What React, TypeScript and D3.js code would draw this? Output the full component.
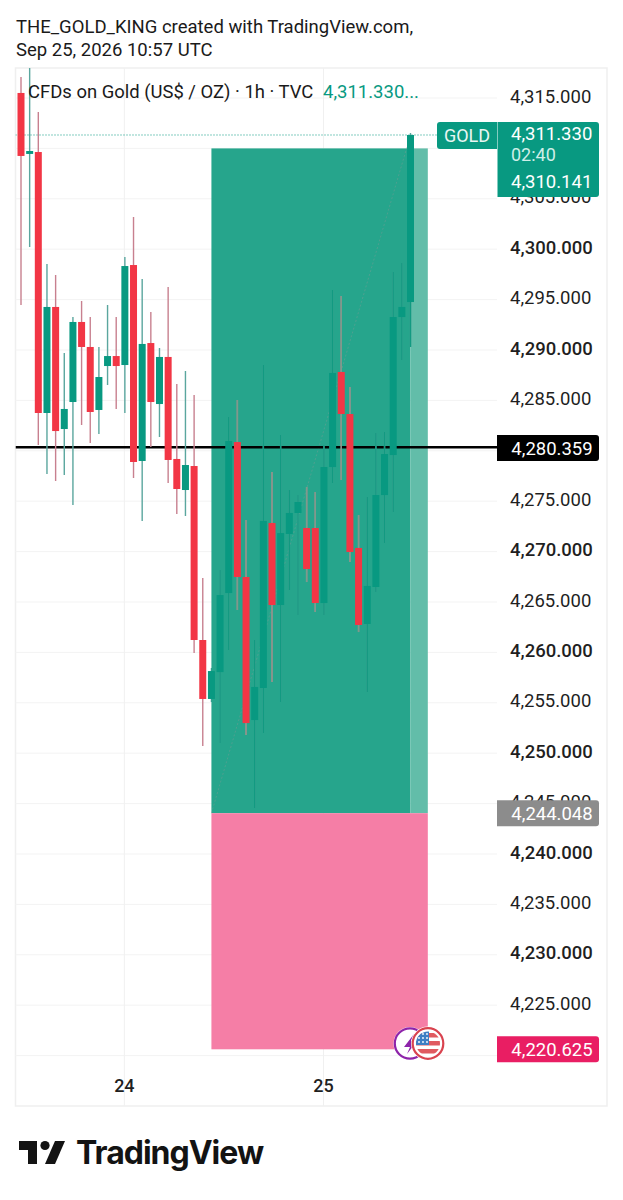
import React from "react";
import * as d3 from "d3";

const highs = [4317.08,4317.98,4313.61,4298.53,4297.44,4289.7,4293.27,4294.86,4293.27,4290.3,4294.46,4293.27,4299.23,4303.19,4297.04,4293.77,4290.2,4296.25,4286.63,4287.92,4285.54,4267.38,4258.45,4268.17,4283.35,4285.04,4273.13,4261.23,4288.51,4277.9,4281.57,4276.11,4275.61,4276.41,4275.91,4280.58,4295.95,4295.36,4286.33,4273.63,4275.42,4281.77,4281.86,4297.74,4298.63,4311.53];
const lows = [4294.46,4300.22,4280.58,4277.7,4277.0,4277.6,4274.62,4282.56,4280.77,4281.67,4286.53,4284.15,4283.75,4277.3,4273.04,4280.38,4281.37,4276.81,4273.73,4273.53,4259.94,4250.71,4255.08,4251.01,4260.24,4264.21,4251.8,4244.56,4252.0,4257.06,4255.08,4266.19,4263.71,4266.98,4264.01,4263.71,4276.81,4277.1,4268.97,4262.02,4256.07,4265.99,4270.85,4273.93,4289.01,4290.3];
const opens = [4315.5,4309.45,4309.64,4283.75,4294.27,4282.16,4284.84,4292.78,4290.3,4284.05,4288.41,4289.4,4288.51,4298.43,4278.99,4290.69,4284.64,4289.31,4279.19,4276.11,4278.49,4261.23,4255.38,4258.05,4265.89,4280.87,4267.48,4253.29,4256.47,4272.84,4264.7,4271.75,4273.83,4272.34,4272.34,4264.9,4278.39,4287.82,4283.65,4270.36,4262.82,4266.49,4275.61,4279.58,4293.27,4294.76];
const closes = [4309.25,4309.74,4283.75,4294.27,4281.96,4284.15,4292.78,4290.3,4283.85,4287.32,4289.4,4288.41,4298.33,4278.89,4290.6,4284.84,4289.31,4279.09,4276.21,4278.59,4261.23,4255.38,4258.15,4265.69,4280.97,4267.48,4252.99,4256.57,4273.04,4264.7,4271.84,4273.83,4274.92,4268.27,4264.9,4278.39,4287.72,4283.65,4269.96,4262.72,4266.59,4275.61,4279.68,4293.27,4294.27,4311.33];

const priceTicks = [4315,4310,4305,4300,4295,4290,4285,4280,4275,4270,4265,4260,4255,4250,4245,4240,4235,4230,4225,4220];
const boldTicks = [4300,4290,4270,4260,4250,4240,4230];
const hiddenTicks = [4310,4280,4220];
const timeTicks = [{ label: "24", i: 12 }, { label: "25", i: 35 }];

const lastPrice = 4311.33;
const countdownPrice = "02:40";
const bidPrice = 4310.141;
const blackLevel = 4280.359;
const entryLevel = 4244.048;
const targetLevel = 4310.0;
const stopLevel = 4220.625;
const zoneStart = 22;
const zoneNow = 45;
const zoneEnd = 47;

const UP = "#089981";
const DOWN = "#f23645";
const FONT = "Roboto, sans-serif";

const y = d3.scaleLinear().domain([4290, 4220]).range([350, 1055.6]);
const x = d3.scaleLinear().domain([0, 45]).range([21, 410.5]);
const fmt = d3.format(",.3f");

const LEFT = 15.5, RIGHT = 607, TOP = 68, BOTTOM = 1106, AXIS = 497, BOX_R = 599;

function PriceBox({ p, fill, yc }: { p: number; fill: string; yc?: number }) {
  const c = yc ?? y(p);
  return (
    <g>
      <path d={`M${AXIS} ${c - 13}H${BOX_R - 3}q3 0 3 3V${c + 10}q0 3 -3 3H${AXIS}Z`} fill={fill} />
      <text x={552} y={c + 6.5} textAnchor="middle" fontSize={18.5} fill="#fff" fontFamily={FONT}>{fmt(p)}</text>
    </g>
  );
}

export default function App() {
  const bw = 7;
  return (
    <svg width={623} height={1200} style={{ position: "absolute", left: 0, top: 0, background: "#fff" }}>
      <defs>
        <clipPath id="plot"><rect x={LEFT} y={TOP} width={AXIS - LEFT} height={BOTTOM - TOP} /></clipPath>
        <clipPath id="zone"><rect x={x(zoneStart)} y={y(targetLevel)} width={x(zoneEnd) - x(zoneStart)} height={y(entryLevel) - y(targetLevel)} /></clipPath>
        <clipPath id="flag"><circle cx={428} cy={1043.5} r={12} /></clipPath>
      </defs>
      <text x={16} y={33} fontSize={18.5} fontFamily={FONT} fill="#1a1a1a">THE_GOLD_KING created with TradingView.com,</text>
      <text x={16} y={56} fontSize={18.5} fontFamily={FONT} fill="#1a1a1a">Sep 25, 2026 10:57 UTC</text>

      <rect x={LEFT} y={TOP} width={RIGHT - LEFT} height={BOTTOM - TOP} fill="none" stroke="#efefef" strokeWidth={1.5} />

      {priceTicks.map(t => (
        <line key={t} x1={LEFT} x2={AXIS} y1={y(t)} y2={y(t)} stroke="#f3f3f3" />
      ))}
      {timeTicks.map(t => (
        <line key={t.label} x1={x(t.i) - 0.5} x2={x(t.i) - 0.5} y1={TOP} y2={BOTTOM} stroke="#f0f0f0" />
      ))}

      <g clipPath="url(#plot)">
        <rect x={x(zoneStart)} y={y(targetLevel)} width={x(zoneNow) - x(zoneStart)} height={y(entryLevel) - y(targetLevel)} fill="#26a58c" />
        <rect x={x(zoneNow)} y={y(targetLevel)} width={x(zoneEnd) - x(zoneNow)} height={y(entryLevel) - y(targetLevel)} fill="#62bda9" />
        <rect x={x(zoneStart)} y={y(entryLevel)} width={x(zoneEnd) - x(zoneStart)} height={y(stopLevel) - y(entryLevel)} fill="#f57ea6" />
        <line x1={x(zoneStart)} x2={x(zoneNow)} y1={y(entryLevel)} y2={y(lastPrice)} stroke="#7d9c94" strokeOpacity={0.45} strokeDasharray="2 2" />
        <line x1={LEFT} x2={437} y1={y(lastPrice)} y2={y(lastPrice)} stroke={UP} strokeDasharray="1 2" />
        <line x1={LEFT} x2={AXIS} y1={y(blackLevel)} y2={y(blackLevel)} stroke="#000" strokeWidth={2.5} />

        {highs.map((h, i) => {
          const up = closes[i] >= opens[i];
          return <line key={i} x1={x(i)} x2={x(i)} y1={y(h)} y2={y(lows[i])} stroke={up ? "#5aa69e" : "#c8808f"} strokeWidth={1.4} />;
        })}
        <g clipPath="url(#zone)">
          {highs.map((h, i) => {
            const up = closes[i] >= opens[i];
            return <line key={i} x1={x(i)} x2={x(i)} y1={y(h)} y2={y(lows[i])} stroke={up ? "#129a81" : "#7f9a8c"} strokeWidth={1.4} />;
          })}
        </g>
        {highs.map((_, i) => {
          const up = closes[i] >= opens[i];
          const top = y(Math.max(opens[i], closes[i]));
          const bot = y(Math.min(opens[i], closes[i]));
          return <rect key={i} x={x(i) - bw / 2} y={top} width={bw} height={Math.max(bot - top, 1)} fill={up ? UP : DOWN} />;
        })}
      </g>

      {priceTicks.filter(t => !hiddenTicks.includes(t)).map(t => (
        <text key={t} x={510} y={y(t) + 4.5} fontSize={18.5} fontFamily={FONT} fontWeight={boldTicks.includes(t) ? 500 : 400} fill="#1f1f1f">{fmt(t)}</text>
      ))}
      {timeTicks.map(t => (
        <text key={t.label} x={x(t.i) - 0.5} y={1092} textAnchor="middle" fontSize={18} fontWeight={500} fontFamily={FONT} fill="#1f1f1f">{t.label}</text>
      ))}

      <text x={28} y={98} fontSize={18.45} fontFamily={FONT} fill="#1a1a1a">CFDs on Gold (US$ / OZ) · 1h · TVC</text>
      <text x={323} y={98} fontSize={18.5} fontFamily={FONT} fill={UP}>4,311.330...</text>

      <path d={`M497 122H440q-3 0 -3 3V146q0 3 3 3H497Z`} fill={UP} />
      <text x={467} y={142} textAnchor="middle" fontSize={18} fontFamily={FONT} fill="#e8f6f3">GOLD</text>
      <path d={`M497.5 122H596q3 0 3 3V194q0 3 -3 3H497.5Z`} fill={UP} />
      <text x={511} y={139.5} fontSize={18.5} fontFamily={FONT} fill="#fff">{fmt(lastPrice)}</text>
      <text x={511} y={161} fontSize={18} fontFamily={FONT} fill="#cfeee8">{countdownPrice}</text>
      <text x={511} y={187.5} fontSize={18.5} fontFamily={FONT} fill="#fff">{fmt(bidPrice)}</text>

      <PriceBox p={blackLevel} fill="#000" yc={448} />
      <PriceBox p={entryLevel} fill="#8c8c8c" />
      <PriceBox p={stopLevel} fill="#e91e63" />

      <circle cx={410} cy={1043.5} r={16.5} fill="#fff" />
      <circle cx={410} cy={1043.5} r={15.2} fill="#fff" stroke="#8e24aa" strokeWidth={2.2} />
      <path d="M414 1034L404 1047H410L407 1054L417 1041H411Z" fill="#8e24aa" />
      <circle cx={428} cy={1043.5} r={17} fill="#fff" />
      <g clipPath="url(#flag)">
        <rect x={416} y={1031} width={24} height={25} fill="#fff" />
        <rect x={416} y={1033} width={24} height={4.5} fill="#e05a60" />
        <rect x={416} y={1041} width={24} height={4.5} fill="#e05a60" />
        <rect x={416} y={1049} width={24} height={4.5} fill="#e05a60" />
        <rect x={416} y={1031} width={13} height={14} fill="#3d7fc4" />
        {[1034, 1038, 1042].flatMap(cy => [419, 423, 427].map(cx => <circle key={`${cx}-${cy}`} cx={cx} cy={cy} r={0.9} fill="#fff" />))}
      </g>
      <circle cx={428} cy={1043.5} r={15.3} fill="none" stroke="#d9434f" strokeWidth={2.2} />

      <g fill="#131313">
        <path d="M19 1141H37V1164H28V1150H19Z" />
        <circle cx={45} cy={1145.5} r={4.6} />
        <path d="M55 1141H65L55 1164H45Z" />
        <text x={76} y={1164} fontSize={32} fontWeight={700} fontFamily="Inter, sans-serif" letterSpacing={-1}>TradingView</text>
      </g>
    </svg>
  );
}
